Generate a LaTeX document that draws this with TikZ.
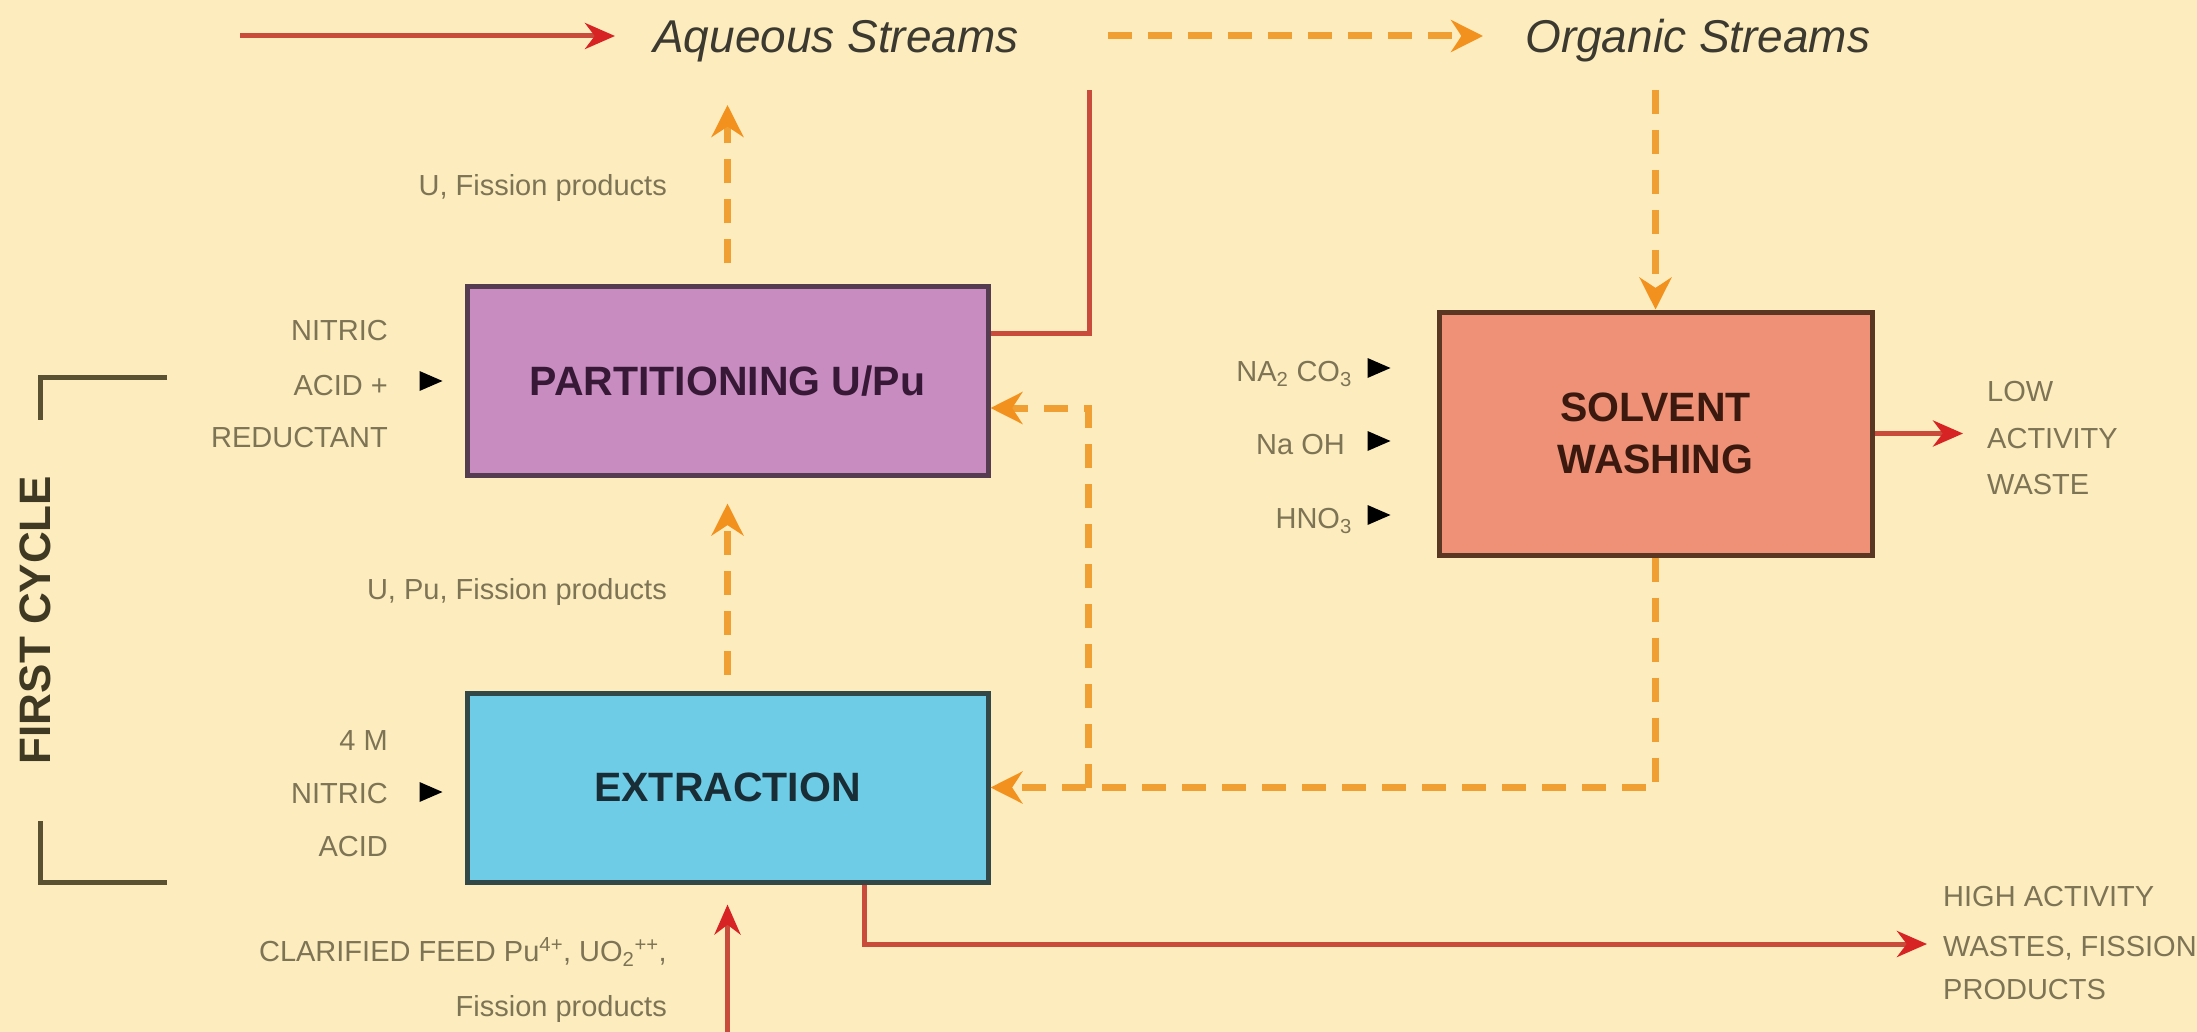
\documentclass[tikz,border=0pt]{standalone}
\usepackage{fontspec}
\setmainfont{Liberation Sans}
\usetikzlibrary{arrows.meta}
\definecolor{bg}{RGB}{253,237,190}
\definecolor{lbl}{RGB}{125,115,85}
\definecolor{legtxt}{RGB}{60,58,48}
\definecolor{redln}{RGB}{200,75,60}
\definecolor{redtip}{RGB}{215,35,35}
\definecolor{orng}{RGB}{240,160,50}
\definecolor{orngtip}{RGB}{242,145,30}
\definecolor{parfill}{RGB}{200,140,192}
\definecolor{parline}{RGB}{85,60,80}
\definecolor{partxt}{RGB}{55,25,55}
\definecolor{extfill}{RGB}{110,204,230}
\definecolor{extline}{RGB}{50,72,72}
\definecolor{exttxt}{RGB}{25,45,55}
\definecolor{solfill}{RGB}{238,145,118}
\definecolor{solline}{RGB}{90,55,35}
\definecolor{soltxt}{RGB}{60,25,15}
\definecolor{brk}{RGB}{90,80,50}
\begin{document}
\begin{tikzpicture}[x=1pt,y=-1pt,
  lab/.style={text=lbl, font=\fontsize{29}{34}\selectfont, inner sep=0pt},
  legend/.style={text=legtxt, font=\itshape\fontsize{46}{52}\selectfont, inner sep=0pt},
  box/.style={draw, line width=5pt, font=\bfseries\fontsize{41}{52}\selectfont, align=center, inner sep=0pt},
  redplain/.style={draw=redln, line width=5pt},
  redarrow/.style={draw=redln, line width=5pt, -{Stealth[length=30pt,width=26pt,color=redtip]}},
  orgline/.style={draw=orng, line width=7pt, dash pattern=on 24pt off 16pt},
  orgarrow/.style={orgline, -{Stealth[length=32pt,width=32pt,color=orngtip]}},
  feedtri/.style={fill=black}]
\fill[bg] (0,0) rectangle (2197,1032);
\useasboundingbox (0,0) rectangle (2197,1032);

% boxes
\node[box, draw=parline, fill=parfill, text=partxt, minimum width=521pt, minimum height=188pt] (par) at (727.5,381) {PARTITIONING U/Pu};
\node[box, draw=extline, fill=extfill, text=exttxt, minimum width=521pt, minimum height=189pt] (ext) at (727.5,787.5) {EXTRACTION};
\node[box, draw=solline, fill=solfill, text=soltxt, minimum width=433pt, minimum height=243pt] (sol) at (1655.5,433.5) {SOLVENT\\WASHING};

% legend
\node[legend, anchor=base west] (aq) at (653,52.5) {Aqueous Streams};
\node[legend, anchor=base west] (org) at (1525,52.5) {Organic Streams};
\coordinate (legR) at (240,36);
\coordinate (legO) at (1108,36);
\draw[redarrow, shorten >=38pt] (legR) -- (aq.west |- legR);
\draw[orgarrow, shorten >=42pt] (legO) -- (org.west |- legO);

% first cycle
\node[text=brk!70!black, font=\bfseries\fontsize{44}{50}\selectfont, rotate=90, inner sep=0pt] (fc) at (35,620) {FIRST CYCLE};
\coordinate (b1) at (167,377);
\coordinate (b2) at (40,377);
\coordinate (b3) at (40,420);
\coordinate (b4) at (40,821);
\coordinate (b5) at (40,882);
\coordinate (b6) at (167,882);
\draw[brk, line width=5pt] (b1) -- (b2) -- (b3);
\draw[brk, line width=5pt] (b4) -- (b5) -- (b6);

% left labels
\node[lab, anchor=base east] (n1) at (388,340) {NITRIC};
\node[lab, anchor=base east] (n2) at (388,395) {ACID +};
\node[lab, anchor=base east] (n3) at (388,447) {REDUCTANT};
\node[lab, anchor=base east] (m1) at (388,750) {4 M};
\node[lab, anchor=base east] (m2) at (388,803) {NITRIC};
\node[lab, anchor=base east] (m3) at (388,856) {ACID};
\fill[feedtri] ([xshift=-22pt]par.west) -- ++(-23,-10) -- ++(0,20) -- cycle;
\fill[feedtri] ([xshift=-22pt,yshift=-4.5pt]ext.west) -- ++(-23,-10) -- ++(0,20) -- cycle;

% stream labels
\node[lab, anchor=base east] (uf) at (667,196) {U, Fission products};
\node[lab, anchor=base east] (upf) at (667,599) {U, Pu, Fission products};
\node[lab, anchor=base east] (cf1) at (667,961) {CLARIFIED FEED Pu\textsuperscript{4+}, UO\textsubscript{2}\textsuperscript{++},};
\node[lab, anchor=base east] (cf2) at (667,1016) {Fission products};

% solvent inputs
\node[lab, anchor=base east] (s1) at (1352,381) {NA\textsubscript{2} CO\textsubscript{3}};
\node[lab, anchor=base east] (s2) at (1345,454) {Na OH};
\node[lab, anchor=base east] (s3) at (1352,528) {HNO\textsubscript{3}};
\fill[feedtri] ([xshift=-46pt,yshift=65.5pt]sol.west) -- ++(-23,-10) -- ++(0,20) -- cycle;
\fill[feedtri] ([xshift=-46pt,yshift=-7.5pt]sol.west) -- ++(-23,-10) -- ++(0,20) -- cycle;
\fill[feedtri] ([xshift=-46pt,yshift=-81.5pt]sol.west) -- ++(-23,-10) -- ++(0,20) -- cycle;

% outputs
\node[lab, anchor=base west] (lo1) at (1987,401) {LOW};
\node[lab, anchor=base west] (lo2) at (1987,448) {ACTIVITY};
\node[lab, anchor=base west] (lo3) at (1987,494) {WASTE};
\node[lab, anchor=base west] (hi1) at (1943,906) {HIGH ACTIVITY};
\node[lab, anchor=base west] (hi2) at (1943,956) {WASTES, FISSION};
\node[lab, anchor=base west] (hi3) at (1943,999) {PRODUCTS};

% connectors
\coordinate (aqTop) at (1089,90);
\coordinate (aqTip) at (727.5,105);
\coordinate (orgTop) at (1655.5,90);
\coordinate (brJ) at (1088,787.5);
\coordinate (feed) at (727.5,1032);
\coordinate (hiY) at (0,944);

\draw[orgarrow, shorten <=21pt] (par.north) -- (aqTip);
\draw[orgarrow, shorten <=16pt, shorten >=26pt] (ext.north) -- (par.south);
\draw[redplain] ([yshift=48pt]par.east) -| (aqTop);
\draw[orgarrow] (orgTop) -- (sol.north);
\draw[orgarrow] (sol.south) |- (ext.east);
\draw[orgarrow] (brJ) |- ([yshift=-27pt]par.east);
\draw[redarrow, shorten >=24pt] (sol.east) -- (lo2.west |- sol.east);
\draw[redarrow, shorten >=20pt] (feed) -- (ext.south);
\draw[redarrow, shorten >=16pt] ([xshift=136.5pt]ext.south) |- (hi2.west |- hiY);
\end{tikzpicture}
\end{document}
